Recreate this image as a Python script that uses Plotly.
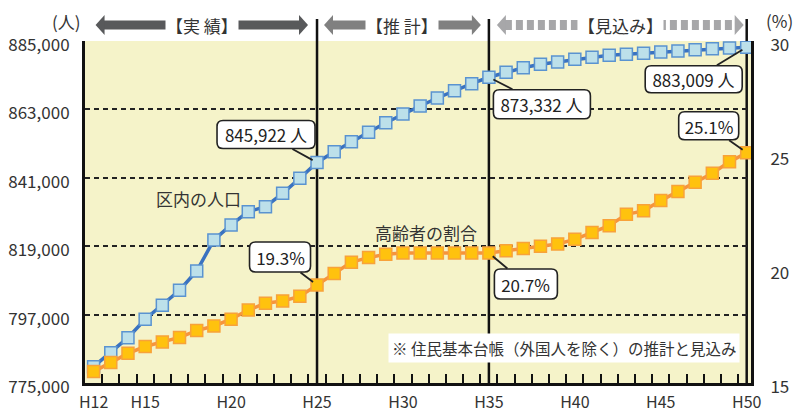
import plotly.graph_objects as go

# ---------------- data ----------------
years = list(range(12, 51))  # H12 .. H50
tick_years = [12, 15, 20, 25, 30, 35, 40, 45, 50]
tick_labels = ["H12", "H15", "H20", "H25", "H30", "H35", "H40", "H45", "H50"]

population = [
    780250, 784760, 789580, 795500, 800000, 804830, 811030, 821000, 825830, 830100,
    831710, 836020, 840840, 845922,
    849400, 852620, 855640, 858730, 861520, 864100, 866670, 869020, 871270, 873332,
    874930, 876410, 877510, 878250, 879120, 879760, 880400, 880720, 881040, 881460,
    881780, 882200, 882520, 882760, 883009,
]
elderly_pct = [
    15.5, 15.9, 16.3, 16.6, 16.8, 17.0, 17.3, 17.5, 17.8, 18.2,
    18.5, 18.6, 18.8, 19.3,
    19.8, 20.3, 20.5, 20.65, 20.7, 20.7, 20.7, 20.7, 20.7, 20.7,
    20.8, 20.9, 21.0, 21.1, 21.3, 21.6, 21.9, 22.4, 22.55, 23.0,
    23.4, 23.8, 24.2, 24.7, 25.1,
]

pop_ticks = [775000, 797000, 819000, 841000, 863000, 885000]
pct_ticks = [15, 20, 25, 30]

section_names = ["【実 績】", "【推 計】", "【見込み】"]
section_bounds = [(12, 25), (25, 35), (35, 50)]
boundary_years = [25, 35, 50]

# callouts: (series, year, text)
callouts = [
    ("pop", 25, "845,922 人"),
    ("pop", 35, "873,332 人"),
    ("pop", 50, "883,009 人"),
    ("pct", 25, "19.3%"),
    ("pct", 35, "20.7%"),
    ("pct", 50, "25.1%"),
]
series_names = ["区内の人口", "高齢者の割合"]
note_text = "※ 住民基本台帳（外国人を除く）の推計と見込み"

# ---------------- layout constants ----------------
W, H = 797, 412
ML, MR, MT, MB = 85, 46, 41, 29
PW, PH = W - ML - MR, H - MT - MB
XR = [11.5, 50.25]
FONT = "Noto Sans CJK JP, Noto Sans, sans-serif"
TXT = "#333333"


def px(year):
    return (year - XR[0]) / (XR[1] - XR[0])


def py_pop(v):
    return (v - pop_ticks[0]) / (pop_ticks[-1] - pop_ticks[0])


def py_pct(v):
    return (v - pct_ticks[0]) / (pct_ticks[-1] - pct_ticks[0])


def rrect(cx, cy, w, h, r=6):
    x0, x1, y0, y1 = cx - w / 2, cx + w / 2, cy - h / 2, cy + h / 2
    return (f"M{x0 + r},{y0} L{x1 - r},{y0} Q{x1},{y0} {x1},{y0 + r} "
            f"L{x1},{y1 - r} Q{x1},{y1} {x1 - r},{y1} L{x0 + r},{y1} "
            f"Q{x0},{y1} {x0},{y1 - r} L{x0},{y0 + r} Q{x0},{y0} {x0 + r},{y0} Z")


fig = go.Figure()

fig.add_trace(go.Scatter(
    x=years, y=population, mode="lines+markers", name=series_names[0],
    line=dict(color="#3A72C0", width=3.5),
    marker=dict(symbol="square", size=12, color="#BCE0EA",
                line=dict(color="#5A93D0", width=1.5)),
    yaxis="y", showlegend=False, hoverinfo="skip",
))
fig.add_trace(go.Scatter(
    x=years, y=elderly_pct, mode="lines+markers", name=series_names[1],
    line=dict(color="#F7943C", width=3.5),
    marker=dict(symbol="square", size=12, color="#FFC20E",
                line=dict(color="#F8A23A", width=1.5)),
    yaxis="y2", showlegend=False, hoverinfo="skip",
))
# dummy trace so the tick-only overlay axis is drawn
fig.add_trace(go.Scatter(x=[None], y=[None], xaxis="x2", yaxis="y",
                         showlegend=False, hoverinfo="skip"))

shapes = []
annotations = []

# vertical boundary lines
line_top = (MT - 19 + PH) / PH
for yr in boundary_years:
    shapes.append(dict(type="line", xref="paper", yref="paper",
                       x0=px(yr), x1=px(yr), y0=0, y1=line_top,
                       line=dict(color="#111111", width=2.5), layer="below"))

# header arrows
arrow_y = (PH + MT - 25) / PH
section_styles = [
    dict(color="#58595B", dash="solid", gl=2, gr=9, w=9),
    dict(color="#808080", dash="solid", gl=7, gr=8, w=9),
    dict(color="#A7A7A9", dash="7px,4px", gl=8, gr=3, w=10),
]
HD, HH = 9, 10
for name, (a, b), st in zip(section_names, section_bounds, section_styles):
    xl = px(a) + st["gl"] / PW
    xr = px(b) - st["gr"] / PW
    shapes.append(dict(type="line", xref="paper", yref="paper",
                       x0=xl + (HD - 1) / PW, x1=xr - (HD - 1) / PW,
                       y0=arrow_y, y1=arrow_y,
                       line=dict(color=st["color"], width=st["w"], dash=st["dash"]),
                       layer="above"))
    shapes.append(dict(type="path", xref="paper", yref="paper",
                       xsizemode="pixel", ysizemode="pixel", xanchor=xl, yanchor=arrow_y,
                       path=f"M0,0 L{HD},{HH} L{HD},{-HH} Z",
                       fillcolor=st["color"], line=dict(width=0), layer="above"))
    shapes.append(dict(type="path", xref="paper", yref="paper",
                       xsizemode="pixel", ysizemode="pixel", xanchor=xr, yanchor=arrow_y,
                       path=f"M0,0 L{-HD},{HH} L{-HD},{-HH} Z",
                       fillcolor=st["color"], line=dict(width=0), layer="above"))
    annotations.append(dict(xref="paper", yref="paper", x=(xl + xr) / 2, y=arrow_y,
                            text=name, showarrow=False, bgcolor="white", borderpad=0,
                            font=dict(size=17, color=TXT), xanchor="center", yanchor="middle"))

# callout boxes
callout_geom = {
    ("pop", 25): (-51, -28, 98, 28),
    ("pop", 35): (53, 27, 97, 29),
    ("pop", 50): (-53, 32, 97, 27),
    ("pct", 25): (-37, -28, 61, 30),
    ("pct", 35): (37, 31, 63, 30),
    ("pct", 50): (-38, -27, 60, 28),
}
for series, yr, text in callouts:
    i = years.index(yr)
    if series == "pop":
        yv = py_pop(population[i])
    else:
        yv = py_pct(elderly_pct[i])
    xv = px(yr)
    dx, dy, w, h = callout_geom[(series, yr)]
    shapes.append(dict(type="path", xref="paper", yref="paper",
                       xsizemode="pixel", ysizemode="pixel", xanchor=xv, yanchor=yv,
                       path=rrect(dx, -dy, w, h, 6),
                       fillcolor="white", line=dict(color="#222222", width=1.6),
                       layer="above"))
    annotations.append(dict(xref="paper", yref="paper", x=xv, y=yv, text=text,
                            showarrow=True, arrowhead=0, arrowwidth=1.8,
                            arrowcolor="#222222", ax=dx, ay=dy, standoff=5,
                            width=w, height=h, borderpad=0,
                            font=dict(size=17, color="#222222")))

# series labels
annotations.append(dict(xref="x", yref="y", x=18.1, y=834500, text=series_names[0],
                        showarrow=False, font=dict(size=17, color=TXT)))
annotations.append(dict(xref="x", yref="y2", x=31.35, y=21.6, text=series_names[1],
                        showarrow=False, font=dict(size=17, color=TXT)))

# note
annotations.append(dict(xref="paper", yref="paper", x=(740 - ML) / PW, y=(MT + PH - 348) / PH,
                        xanchor="right", yanchor="middle", text=note_text, showarrow=False,
                        bgcolor="white", borderpad=3, font=dict(size=15.5, color=TXT)))

# unit labels
annotations.append(dict(xref="paper", yref="paper", x=(66 - ML) / PW, y=(MT + PH - 22) / PH,
                        text="(人)", showarrow=False, font=dict(size=17, color=TXT),
                        xanchor="center", yanchor="middle"))
annotations.append(dict(xref="paper", yref="paper", x=(779 - ML) / PW, y=(MT + PH - 20) / PH,
                        text="(%)", showarrow=False, font=dict(size=17, color=TXT),
                        xanchor="center", yanchor="middle"))

fig.update_layout(
    template="none",
    width=W, height=H,
    margin=dict(l=ML, r=MR, t=MT, b=MB, pad=0),
    paper_bgcolor="white",
    plot_bgcolor="#F5F3C9",
    font=dict(family=FONT, color=TXT, size=16),
    showlegend=False,
    xaxis=dict(range=XR, tickvals=tick_years, ticktext=tick_labels,
               showgrid=False, zeroline=False, showline=True, linecolor="#111111",
               linewidth=3, ticks="", tickfont=dict(size=16, color=TXT),
               ticklabelstandoff=3, automargin=False),
    xaxis2=dict(range=XR, overlaying="x", anchor="y", side="bottom",
                tickvals=[y + 0.5 for y in years[:-1]], ticks="inside", ticklen=9,
                tickwidth=2, tickcolor="#111111", showticklabels=False,
                showgrid=False, zeroline=False, showline=False, automargin=False),
    yaxis=dict(range=[pop_ticks[0], pop_ticks[-1]], tickvals=pop_ticks,
               ticktext=[f"{v:,}" for v in pop_ticks],
               showgrid=True, gridcolor="#222222", gridwidth=1.5, griddash="5px,4px",
               zeroline=False, showline=True, linecolor="#111111", linewidth=3,
               ticks="", tickfont=dict(size=17, color=TXT), ticklabelstandoff=9,
               ticklabelshift=4, automargin=False),
    yaxis2=dict(range=[pct_ticks[0], pct_ticks[-1]], tickvals=pct_ticks,
                overlaying="y", side="right", anchor="x",
                showgrid=False, zeroline=False, showline=True, linecolor="#111111",
                linewidth=3, ticks="", tickfont=dict(size=17, color=TXT),
                ticklabelstandoff=13, ticklabelshift=4, automargin=False),
    shapes=shapes,
    annotations=annotations,
)

fig.write_html(
    "out.html",
    config={"displayModeBar": False},
    post_script="document.body.style.margin='0';document.body.style.overflow='hidden';",
)
